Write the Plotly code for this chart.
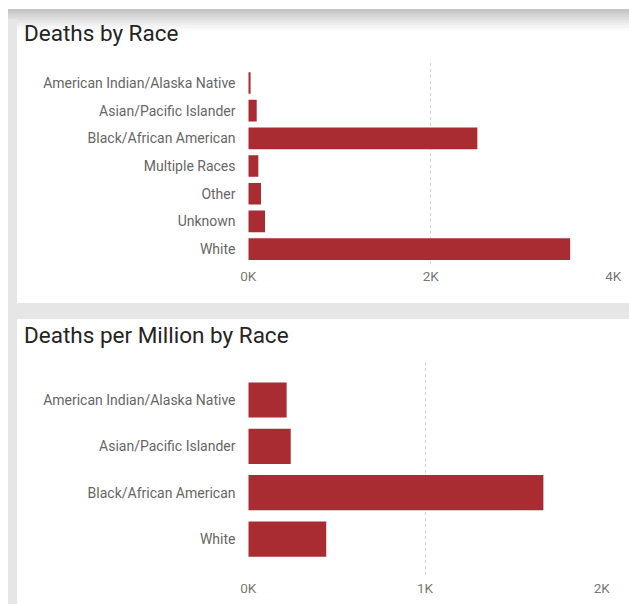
import plotly.graph_objects as go

# ---- data ----
races_total = ["American Indian/Alaska Native", "Asian/Pacific Islander",
               "Black/African American", "Multiple Races", "Other", "Unknown", "White"]
deaths_total = [25, 92, 2510, 110, 139, 183, 3527]

races_rate = ["American Indian/Alaska Native", "Asian/Pacific Islander",
              "Black/African American", "White"]
deaths_per_million = [217, 240, 1670, 441]

x1_tickvals = [0, 2000, 4000]
x1_ticktext = ["0K", "2K", "4K"]
x2_tickvals = [0, 1000, 2000]
x2_ticktext = ["0K", "1K", "2K"]

titles = ["Deaths by Race", "Deaths per Million by Race"]

# ---- style ----
W, H = 629, 604
BAR = "#a82c31"
LABEL = "#666666"
TITLE = "#252423"
FONT = "Roboto"

def px(x):
    return x / W

def py(y):
    return 1 - y / H

fig = go.Figure()
fig.add_trace(go.Bar(x=deaths_total, y=races_total, orientation="h",
                     marker=dict(color=BAR, line=dict(width=0)), width=0.78,
                     xaxis="x", yaxis="y", hoverinfo="x+y"))
fig.add_trace(go.Bar(x=deaths_per_million, y=races_rate, orientation="h",
                     marker=dict(color=BAR, line=dict(width=0)), width=0.76,
                     xaxis="x2", yaxis="y2", hoverinfo="x+y"))

axis_common = dict(showline=False, zeroline=False, showgrid=True, automargin=False,
                   gridcolor="#d6d6d6", griddash="dot", gridwidth=1,
                   tickfont=dict(family=FONT, size=13.5, color="#777777"),
                   fixedrange=True)
yaxis_common = dict(type="category", categoryorder="array", automargin=False,
                    showgrid=False, showline=False, zeroline=False,
                    ticks="outside", ticklen=9, tickcolor="rgba(0,0,0,0)",
                    tickfont=dict(family=FONT, size=14, color=LABEL), fixedrange=True)

fig.update_layout(
    width=W, height=H,
    margin=dict(l=0, r=0, t=0, b=0, autoexpand=False),
    paper_bgcolor="white", plot_bgcolor="rgba(0,0,0,0)",
    showlegend=False,
    font=dict(family=FONT),
    xaxis=dict(domain=[px(248.3), px(613.3)], range=[0, 4000], anchor="y",
               tickvals=x1_tickvals, ticktext=x1_ticktext, **axis_common),
    yaxis=dict(domain=[py(266), py(63)], anchor="x", categoryarray=races_total,
               range=[6.61, -0.72], **yaxis_common),
    xaxis2=dict(domain=[px(248.3), px(601.7)], range=[0, 2000], anchor="y2",
                tickvals=x2_tickvals, ticktext=x2_ticktext, **axis_common),
    yaxis2=dict(domain=[py(578), py(362)], anchor="x2", categoryarray=races_rate,
                range=[3.84, -0.82], **yaxis_common),
)

# ---- background cards (dashboard frame) ----
shapes = []
def rect(x0, y0, x1, y1, color):
    shapes.append(dict(type="rect", xref="paper", yref="paper",
                       x0=px(x0), x1=px(x1), y0=py(y1), y1=py(y0),
                       fillcolor=color, line=dict(width=0), layer="below"))

rect(8, 9, W, H, "#e6e6e6")          # gray frame
rect(17, 18, W, 303, "white")         # top card
rect(17, 319, W, H, "white")          # bottom card
# top shadow gradient
grad = ["#c2c2c2", "#c8c8c8", "#cfcfcf", "#d6d6d6", "#dcdcdc", "#e2e2e2",
        "#e8e8e8", "#eeeeee", "#f3f3f3", "#f7f7f7", "#fbfbfb"]
for i, c in enumerate(grad):
    rect(8 if i < 5 else 17, 9 + i * 2, W, 11 + i * 2, c)
fig.update_layout(shapes=shapes)

# ---- titles ----
fig.add_annotation(text=titles[0], xref="paper", yref="paper", x=px(22), y=py(33),
                   xanchor="left", yanchor="middle", showarrow=False,
                   font=dict(family=FONT, size=22.5, color=TITLE))
fig.add_annotation(text=titles[1], xref="paper", yref="paper", x=px(22), y=py(335),
                   xanchor="left", yanchor="middle", showarrow=False,
                   font=dict(family=FONT, size=22.5, color=TITLE))

fig.write_html("out.html", config={"displayModeBar": False})
